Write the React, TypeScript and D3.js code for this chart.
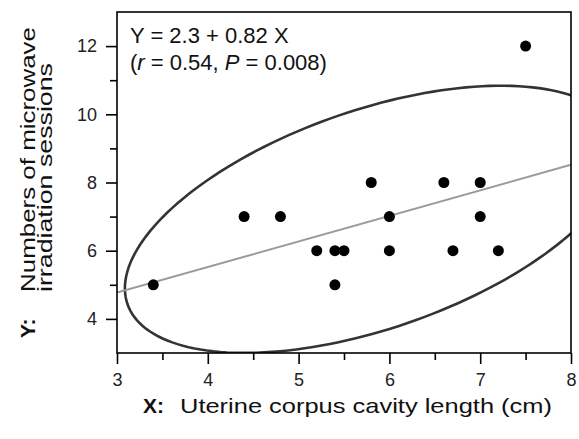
import React, { useEffect, useRef } from "react";
import * as d3 from "d3";

// uterine corpus cavity length (cm) and number of sessions, one per patient
const lengthCm = [3.4, 4.4, 4.8, 5.2, 5.4, 5.4, 5.5, 5.8, 6.0, 6.0, 6.6, 6.7, 7.0, 7.0, 7.2, 7.5];
const sessions = [5, 7, 7, 6, 6, 5, 6, 8, 7, 6, 8, 6, 8, 7, 6, 12];

const fitX = [3, 8];
const fitY = [4.77, 8.52];

// confidence ellipse: centre (x, y) and covariance (xx, xy, yy)
const ellipseCenter = [5.82, 6.92];
const ellipseCov = [7.47, 5.53, 15.35];

const xTicks = [3, 4, 5, 6, 7, 8];
const xMinor = [3.5, 4.5, 5.5, 6.5, 7.5];
const yTicks = [4, 6, 8, 10, 12];
const yMinor = [5, 7, 9, 11];

const FONT = "'Liberation Sans', Arial, sans-serif";

function App() {
  const ref = useRef<SVGSVGElement>(null);

  useEffect(() => {
    var width = 579;
    var height = 439;
    var left = 117,
      right = 571,
      top = 12,
      bottom = 353;

    var svg = d3.select(ref.current);
    svg.selectAll("*").remove();

    var x = d3.scaleLinear().domain([3, 8]).range([left, right]);
    var y = d3.scaleLinear().domain([3, 13]).range([bottom, top]);

    svg
      .append("defs")
      .append("clipPath")
      .attr("id", "plot-clip")
      .append("rect")
      .attr("x", left)
      .attr("y", top)
      .attr("width", right - left)
      .attr("height", bottom - top);

    var plot = svg.append("g").attr("clip-path", "url(#plot-clip)");

    // ellipse from its covariance (cholesky factor)
    var l11 = Math.sqrt(ellipseCov[0]);
    var l21 = ellipseCov[1] / l11;
    var l22 = Math.sqrt(ellipseCov[2] - l21 * l21);
    var angles = d3.range(0, Math.PI * 2, Math.PI / 90);
    var ellipse = d3
      .line<number>()
      .x((t) => x(ellipseCenter[0] + l11 * Math.cos(t)))
      .y((t) => y(ellipseCenter[1] + l21 * Math.cos(t) + l22 * Math.sin(t)))
      .curve(d3.curveLinearClosed);

    plot
      .append("path")
      .attr("d", ellipse(angles))
      .attr("fill", "none")
      .attr("stroke", "#333")
      .attr("stroke-width", 2.6);

    var fit = d3
      .line<number>()
      .x((d) => x(d))
      .y((d, i) => y(fitY[i]));

    plot
      .append("path")
      .attr("d", fit(fitX))
      .attr("fill", "none")
      .attr("stroke", "#9a9a9a")
      .attr("stroke-width", 2);

    plot
      .selectAll("circle")
      .data(lengthCm)
      .enter()
      .append("circle")
      .attr("cx", (d) => x(d))
      .attr("cy", (d, i) => y(sessions[i]))
      .attr("r", 5.5)
      .attr("fill", "#000");

    // frame
    svg
      .append("rect")
      .attr("x", left)
      .attr("y", top)
      .attr("width", right - left)
      .attr("height", bottom - top)
      .attr("fill", "none")
      .attr("stroke", "#000")
      .attr("stroke-width", 1.6);

    var xAxis = svg.append("g").attr("transform", `translate(0,${bottom})`);
    xAxis
      .call(
        d3
          .axisBottom(x)
          .tickValues(xTicks)
          .tickFormat(d3.format("d"))
          .tickSize(11)
          .tickSizeOuter(0)
          .tickPadding(9)
      )
      .call((g) => g.select(".domain").remove());
    xAxis.selectAll("line").attr("stroke-width", 1.6);
    xAxis
      .selectAll("text")
      .attr("font-size", 18)
      .attr("font-family", FONT)
      .attr("fill", "#222");
    svg
      .append("g")
      .attr("transform", `translate(0,${bottom})`)
      .call(d3.axisBottom(x).tickValues(xMinor).tickSize(7).tickFormat(() => ""))
      .call((g) => g.select(".domain").remove())
      .selectAll("line")
      .attr("stroke-width", 1.6);

    var yAxis = svg.append("g").attr("transform", `translate(${left},0)`);
    yAxis
      .call(d3.axisLeft(y).tickValues(yTicks).tickFormat(d3.format("d")).tickSize(11).tickPadding(9))
      .call((g) => g.select(".domain").remove());
    yAxis.selectAll("line").attr("stroke-width", 1.6);
    yAxis
      .selectAll("text")
      .attr("font-size", 18)
      .attr("font-family", FONT)
      .attr("fill", "#222");
    svg
      .append("g")
      .attr("transform", `translate(${left},0)`)
      .call(d3.axisLeft(y).tickValues(yMinor).tickSize(7).tickFormat(() => ""))
      .call((g) => g.select(".domain").remove())
      .selectAll("line")
      .attr("stroke-width", 1.6);

    // regression equation
    var eq = svg
      .append("g")
      .attr("font-family", FONT)
      .attr("font-size", 22)
      .attr("fill", "#111");
    eq.append("text").attr("x", 130).attr("y", 42.5).text("Y = 2.3 + 0.82 X");
    var stats = eq.append("text").attr("x", 130).attr("y", 70);
    stats.append("tspan").text("(");
    stats.append("tspan").attr("font-style", "italic").text("r");
    stats.append("tspan").text(" = 0.54, ");
    stats.append("tspan").attr("font-style", "italic").text("P");
    stats.append("tspan").text(" = 0.008)");

    // axis titles
    var titles = svg.append("g").attr("font-family", FONT).attr("fill", "#111");
    titles
      .append("text")
      .attr("x", 143)
      .attr("y", 413)
      .attr("font-size", 21)
      .attr("font-weight", "bold")
      .text("X:");
    titles
      .append("text")
      .attr("x", 180)
      .attr("y", 413)
      .attr("font-size", 21)
      .attr("textLength", 372)
      .attr("lengthAdjust", "spacingAndGlyphs")
      .text("Uterine corpus cavity length (cm)");

    titles
      .append("text")
      .attr("transform", "translate(35,338) rotate(-90)")
      .attr("font-size", 21)
      .attr("font-weight", "bold")
      .text("Y:");
    titles
      .append("text")
      .attr("transform", "translate(35,292) rotate(-90)")
      .attr("font-size", 21)
      .attr("textLength", 265)
      .attr("lengthAdjust", "spacingAndGlyphs")
      .text("Numbers of microwave");
    titles
      .append("text")
      .attr("transform", "translate(52,292) rotate(-90)")
      .attr("font-size", 20)
      .attr("textLength", 229)
      .attr("lengthAdjust", "spacingAndGlyphs")
      .text("irradiation sessions");

    svg.attr("width", width).attr("height", height);
  }, []);

  return (
    <svg
      ref={ref}
      width={579}
      height={439}
      style={{ position: "absolute", left: 0, top: 0, background: "#fff" }}
    />
  );
}

export default App;
